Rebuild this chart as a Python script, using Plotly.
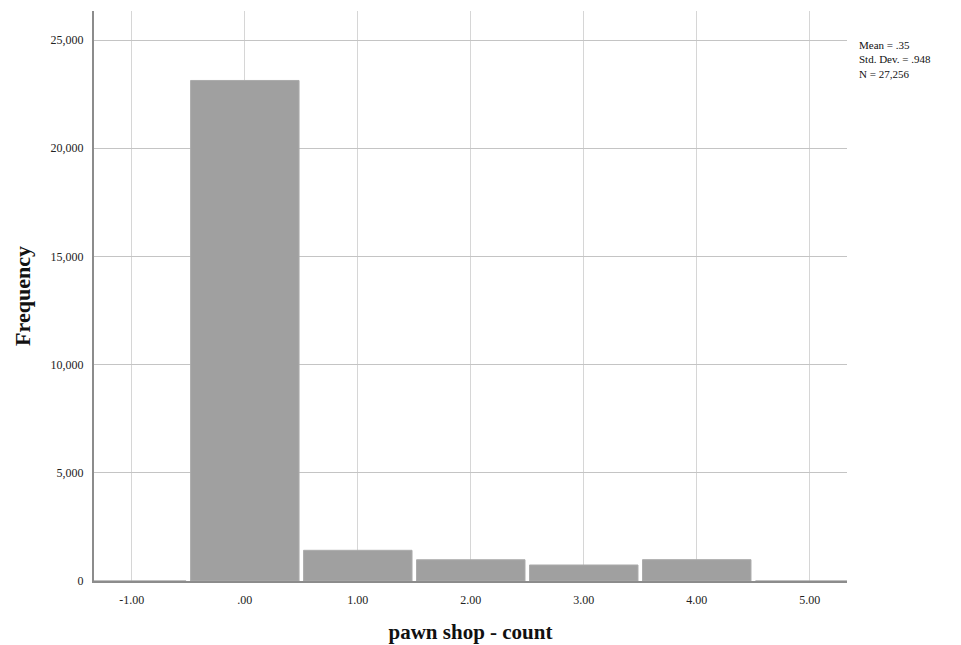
import plotly.graph_objects as go

bin_centers = [-1, 0, 1, 2, 3, 4, 5]
frequencies = [0, 23130, 1418, 982, 740, 986, 0]
x_tick_vals = [-1, 0, 1, 2, 3, 4, 5]
x_tick_text = ["-1.00", ".00", "1.00", "2.00", "3.00", "4.00", "5.00"]
y_tick_vals = [0, 5000, 10000, 15000, 20000, 25000]
stats_text = ["Mean = .35", "Std. Dev. = .948", "N = 27,256"]

SERIF = "Liberation Serif, Times New Roman, serif"

fig = go.Figure()
fig.add_trace(go.Bar(
    x=bin_centers,
    y=frequencies,
    marker=dict(color="#a0a0a0", line=dict(color="#ababab", width=1)),
    showlegend=False,
))

fig.update_layout(
    width=953, height=637,
    margin=dict(l=86, r=114, t=3, b=64),
    paper_bgcolor="white", plot_bgcolor="white",
    bargap=0.04,
    font=dict(family=SERIF, size=12, color="#222"),
    xaxis=dict(
        range=[-1.335, 5.33],
        tickvals=x_tick_vals, ticktext=x_tick_text,
        showgrid=True, gridcolor="#d6d6d6", gridwidth=1,
        showline=True, linecolor="#8c8c8c", linewidth=2,
        ticks="", ticklabelstandoff=7, zeroline=False,
        tickfont=dict(family=SERIF, size=12, color="#222"),
        title=dict(text="pawn shop - count", standoff=18,
                   font=dict(family=SERIF, size=21, color="#111", weight="bold")),
    ),
    yaxis=dict(
        range=[0, 26340],
        tickvals=y_tick_vals, tickformat=",",
        showgrid=True, gridcolor="#c4c4c4", gridwidth=1,
        showline=True, linecolor="#8c8c8c", linewidth=2,
        ticks="", ticklabelstandoff=6, zeroline=False,
        tickfont=dict(family=SERIF, size=12, color="#222"),
        title=dict(text="Frequency", standoff=14,
                   font=dict(family=SERIF, size=22, color="#111", weight="bold")),
    ),
    annotations=[dict(
        text="<br>".join(stats_text),
        xref="paper", yref="paper", x=1.0135, y=0.955,
        xanchor="left", yanchor="top", align="left", showarrow=False,
        font=dict(family=SERIF, size=11, color="#111"),
    )],
)

fig.write_html("out.html")
